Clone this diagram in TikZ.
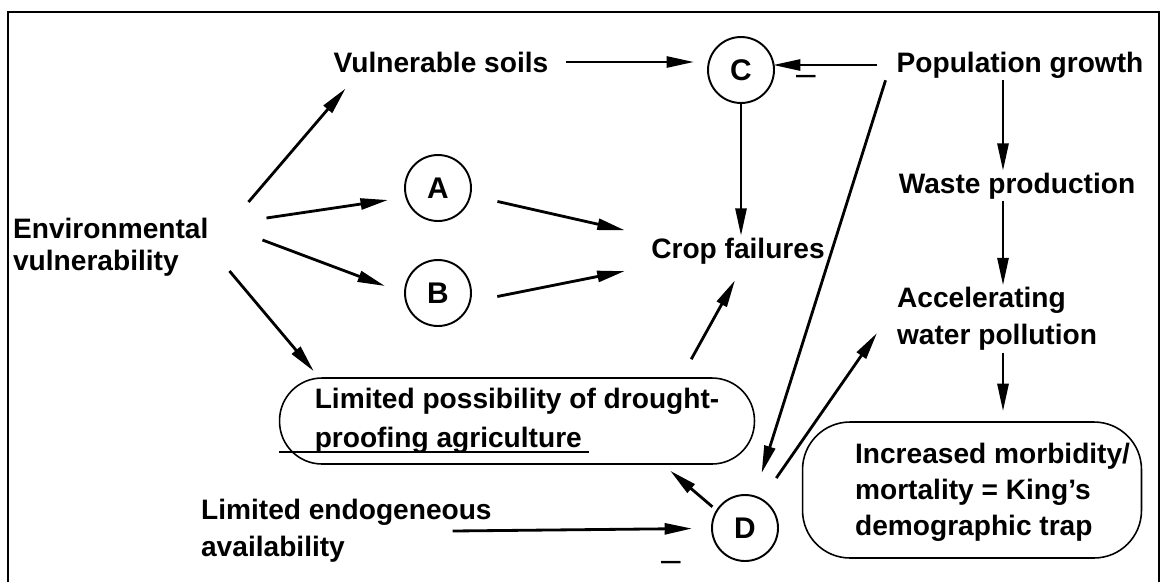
\documentclass[tikz,border=0pt]{standalone}
\usepackage{fontspec}
\setmainfont{Liberation Sans}
\usetikzlibrary{arrows.meta,positioning,calc}

\begin{document}
\begin{tikzpicture}[x=0.02cm,y=-0.02cm,
    font=\fontsize{16}{21}\selectfont\bfseries,
    lbl/.style={inner sep=1pt,align=left},
    circ/.style={draw,circle,minimum size=1.32cm,inner sep=0,line width=1.1pt,
      font=\fontsize{17}{20}\selectfont\bfseries},
    rbox/.style={draw,rectangle,rounded corners=0.85cm,line width=0.9pt,inner sep=0},
    neg/.style={inner sep=0,font=\fontsize{20}{20}\selectfont,anchor=base},
    arr/.style={-{Triangle[length=0.55cm,width=0.22cm]},line width=1.6pt}]
  \useasboundingbox (0,0) rectangle (1162,582);
  \draw[line width=1pt] (8,582) -- (8,12) -- (1159,12) -- (1159,582);

  \node[lbl,anchor=west,font=\fontsize{16}{18}\selectfont\bfseries] (envv) at (11,247) {Environmental\\vulnerability};
  \node[lbl] (soils) at (441,62) {Vulnerable soils};
  \node[circ] (nA) at (438,188) {A};
  \node[circ] (nB) at (438,293) {B};
  \node[circ] (nC) at (741,70) {C};
  \node[circ] (nD) at (745,528) {D};
  \node[lbl] (pop) at (1020,65) {Population growth};
  \node[lbl] (waste) at (1017,186) {Waste production};
  \node[lbl] (crop) at (738,251) {Crop failures};
  \node[lbl,anchor=west] (accel) at (895,319) {Accelerating\\water pollution};
  \node[lbl,rbox,minimum width=9.5cm,minimum height=1.72cm,
    font=\fontsize{16}{22}\selectfont\bfseries] (limposs) at (517,421) {Limited possibility of drought-\\proofing agriculture};
  \node[rbox,minimum width=6.78cm,minimum height=2.72cm,rounded corners=0.95cm] (morbbox) at (972,490) {};
  \node[lbl,anchor=west,font=\fontsize{16}{20.5}\selectfont\bfseries] (morb) at (853,492) {Increased morbidity/\\mortality = King's\\demographic trap};
  \node[lbl,anchor=west] (endog) at (199,531) {Limited endogeneous\\availability};
  \node[neg] (negC) at (806,85) {–};
  \node[neg] (negD) at (671,571) {–};

  \coordinate (popcol) at (1003,0);

  % environmental vulnerability fan
  \draw[arr] ([shift={(38,-45)}]envv.east) -- ([shift={(14,14)}]soils.south west);
  \draw[arr] ([shift={(56,-29)}]envv.east) -- ([shift={(-50,12)}]nA.center);
  \draw[arr] ([shift={(52,-7)}]envv.east) -- ([shift={(-53,-7)}]nB.center);
  \draw[arr] ([shift={(19,24)}]envv.east) -- ([shift={(35,-6)}]limposs.north west);

  \draw[arr,shorten <=0.32cm,shorten >=0.26cm] (soils.east) -- (soils.east -| nC.west);
  \draw[arr,shorten >=0.32cm] ([xshift=-0.36cm]pop.west) -- ([xshift=-0.36cm]pop.west -| nC.east);
  \draw[arr] (nC) -- (nC |- crop.north);
  \draw[arr,shorten <=0.54cm,shorten >=0.5cm] (nA) -- (crop.north west);
  \draw[arr,shorten <=0.54cm,shorten >=0.5cm] (nB.-15) -- (crop.south west);
  \draw[arr] ([shift={(-64,-18)}]limposs.north east) -- ([shift={(-3,14)}]crop.south);

  % population column
  \draw[arr] (popcol |- pop.south) -- (popcol |- waste.north);
  \draw[arr] (popcol |- waste.south) -- (popcol |- accel.north);
  \draw[arr,shorten >=0.2cm] (popcol |- accel.south) -- (popcol |- morbbox.north);
  \draw[arr,shorten >=0.44cm] ([xshift=-0.18cm]pop.south west) -- ([xshift=0.2cm]nD.north);

  % around D
  \draw[arr,shorten <=0.1cm] (nD.148) -- ([shift={(-85,6)}]limposs.south east);
  \draw[arr,shorten <=0.5cm] (nD.60) -- ([shift={(-18,14)}]accel.west);
  \draw[arr,shorten >=0.38cm] ([xshift=-0.82cm]endog.east) -- (nD);

  \draw[line width=1pt] ([shift={(0,31)}]limposs.west) -- ++(310,0);
\end{tikzpicture}
\end{document}
